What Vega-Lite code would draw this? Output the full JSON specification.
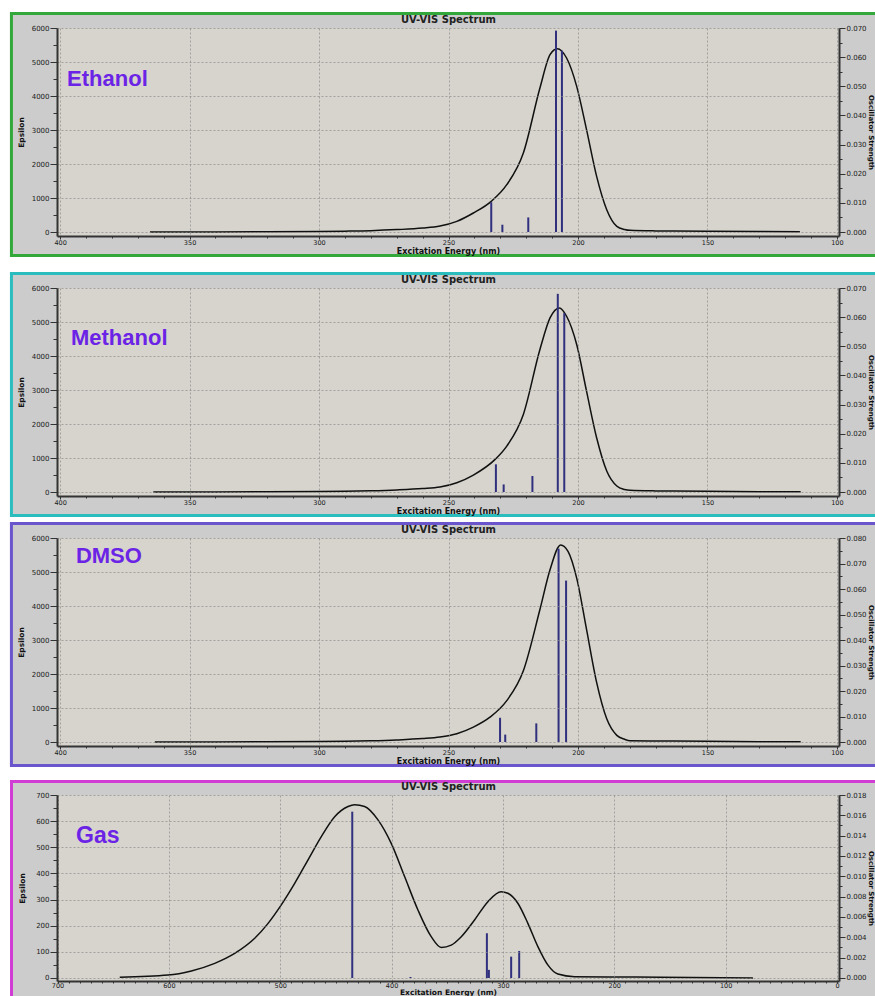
{
  "$schema": "https://vega.github.io/schema/vega-lite/v6.json",
  "background": "white",
  "padding": {"left": 8, "top": 10, "right": 0, "bottom": 0},
  "autosize": {"type": "pad"},
  "config": {
    "view": {"stroke": null},
    "axis": {
      "zindex": 1,
      "labelFont": "DejaVu Sans", "labelFontSize": 7, "labelColor": "#1a1a1a",
      "titleFont": "DejaVu Sans", "titleFontSize": 8, "titleFontWeight": "bold", "titleColor": "#111111",
      "domainColor": "#333333", "domainWidth": 2, "tickColor": "#333333", "tickWidth": 1,
      "labelFlush": false, "labelOverlap": false, "labelBound": false,
      "gridColor": "#8a8a8a", "gridDash": [2, 2], "gridWidth": 0.7
    }
  },
  "datasets": {
    "ethanol_curve": [
      {"nm": 365.3, "eps": 0}, {"nm": 340, "eps": 2}, {"nm": 320, "eps": 6}, {"nm": 300, "eps": 15},
      {"nm": 290, "eps": 25}, {"nm": 280, "eps": 40}, {"nm": 270, "eps": 70}, {"nm": 260, "eps": 115},
      {"nm": 253.3, "eps": 175}, {"nm": 246.8, "eps": 314}, {"nm": 240.4, "eps": 559}, {"nm": 233.5, "eps": 902},
      {"nm": 227.5, "eps": 1392}, {"nm": 221.1, "eps": 2324}, {"nm": 214.7, "eps": 4235}, {"nm": 210.8, "eps": 5216},
      {"nm": 208.0, "eps": 5392}, {"nm": 204.4, "eps": 5118}, {"nm": 200.5, "eps": 4284}, {"nm": 196.7, "eps": 3010},
      {"nm": 192.8, "eps": 1637}, {"nm": 188.9, "eps": 657}, {"nm": 185.0, "eps": 167}, {"nm": 182, "eps": 75},
      {"nm": 179.9, "eps": 49}, {"nm": 170, "eps": 33}, {"nm": 163.2, "eps": 29}, {"nm": 150, "eps": 22},
      {"nm": 130, "eps": 12}, {"nm": 114.3, "eps": 6}
    ],
    "ethanol_sticks": [
      {"nm": 233.5, "f": 0.0102}, {"nm": 229.2, "f": 0.0025}, {"nm": 219.2, "f": 0.0050},
      {"nm": 208.5, "f": 0.0691}, {"nm": 206.2, "f": 0.0622}
    ],
    "methanol_curve": [
      {"nm": 364, "eps": 0}, {"nm": 340, "eps": 2}, {"nm": 320, "eps": 5}, {"nm": 300, "eps": 12},
      {"nm": 290, "eps": 20}, {"nm": 280, "eps": 35}, {"nm": 270, "eps": 60}, {"nm": 260, "eps": 100},
      {"nm": 253.3, "eps": 147}, {"nm": 246.8, "eps": 274}, {"nm": 240.4, "eps": 499}, {"nm": 232.0, "eps": 959},
      {"nm": 227.5, "eps": 1351}, {"nm": 221.1, "eps": 2281}, {"nm": 214.7, "eps": 4190}, {"nm": 210.8, "eps": 5120},
      {"nm": 207.2, "eps": 5414}, {"nm": 204.4, "eps": 5169}, {"nm": 200.5, "eps": 4337}, {"nm": 196.7, "eps": 2966},
      {"nm": 192.8, "eps": 1596}, {"nm": 188.9, "eps": 617}, {"nm": 185.0, "eps": 176}, {"nm": 182, "eps": 75},
      {"nm": 179.9, "eps": 49}, {"nm": 170, "eps": 33}, {"nm": 163.2, "eps": 29}, {"nm": 150, "eps": 20},
      {"nm": 130, "eps": 10}, {"nm": 114, "eps": 4}
    ],
    "methanol_sticks": [
      {"nm": 231.7, "f": 0.0095}, {"nm": 228.7, "f": 0.0026}, {"nm": 217.6, "f": 0.0055},
      {"nm": 207.8, "f": 0.0680}, {"nm": 205.3, "f": 0.0614}
    ],
    "dmso_curve": [
      {"nm": 363.4, "eps": 0}, {"nm": 340, "eps": 2}, {"nm": 320, "eps": 5}, {"nm": 300, "eps": 12},
      {"nm": 290, "eps": 20}, {"nm": 280, "eps": 35}, {"nm": 270, "eps": 60}, {"nm": 260, "eps": 100},
      {"nm": 253.3, "eps": 146}, {"nm": 246.8, "eps": 244}, {"nm": 240.4, "eps": 438}, {"nm": 234.0, "eps": 730},
      {"nm": 227.5, "eps": 1218}, {"nm": 221.1, "eps": 2094}, {"nm": 214.7, "eps": 3896}, {"nm": 210.8, "eps": 5065},
      {"nm": 206.7, "eps": 5795}, {"nm": 203.8, "eps": 5600}, {"nm": 200.5, "eps": 4821}, {"nm": 196.7, "eps": 3312},
      {"nm": 192.8, "eps": 1753}, {"nm": 188.9, "eps": 682}, {"nm": 185.0, "eps": 195}, {"nm": 182, "eps": 80},
      {"nm": 179.9, "eps": 39}, {"nm": 170, "eps": 32}, {"nm": 163.2, "eps": 29}, {"nm": 150, "eps": 20},
      {"nm": 130, "eps": 10}, {"nm": 114, "eps": 4}
    ],
    "dmso_sticks": [
      {"nm": 230.1, "f": 0.0095}, {"nm": 228.1, "f": 0.0029}, {"nm": 216.1, "f": 0.0073},
      {"nm": 207.5, "f": 0.0758}, {"nm": 204.6, "f": 0.0633}
    ],
    "gas_curve": [
      {"nm": 644.1, "eps": 3}, {"nm": 600.7, "eps": 11}, {"nm": 579.8, "eps": 27}, {"nm": 558.8, "eps": 56},
      {"nm": 540.9, "eps": 94}, {"nm": 522.9, "eps": 152}, {"nm": 510.9, "eps": 209}, {"nm": 500.1, "eps": 273},
      {"nm": 487.0, "eps": 362}, {"nm": 475.0, "eps": 452}, {"nm": 463.1, "eps": 541}, {"nm": 451.1, "eps": 617},
      {"nm": 439.1, "eps": 656}, {"nm": 433.2, "eps": 663}, {"nm": 424.2, "eps": 656}, {"nm": 412.2, "eps": 605},
      {"nm": 400.3, "eps": 515}, {"nm": 388.3, "eps": 388}, {"nm": 376.3, "eps": 260}, {"nm": 364.4, "eps": 158},
      {"nm": 355.4, "eps": 117}, {"nm": 346.4, "eps": 126}, {"nm": 337.4, "eps": 158}, {"nm": 325.5, "eps": 222},
      {"nm": 313.5, "eps": 292}, {"nm": 301.6, "eps": 330}, {"nm": 295.6, "eps": 324}, {"nm": 286.6, "eps": 286},
      {"nm": 277.6, "eps": 209}, {"nm": 268.6, "eps": 120}, {"nm": 259.7, "eps": 50}, {"nm": 250.7, "eps": 15},
      {"nm": 235.7, "eps": 5}, {"nm": 205.8, "eps": 4}, {"nm": 157.8, "eps": 3}, {"nm": 75.5, "eps": 0}
    ],
    "gas_sticks": [
      {"nm": 435.3, "f": 0.01636}, {"nm": 383, "f": 0.0001}, {"nm": 314.4, "f": 0.0044},
      {"nm": 312.6, "f": 0.0008}, {"nm": 292.6, "f": 0.0021}, {"nm": 285.4, "f": 0.00266}
    ]
  },
  "spacing": 1,
  "vconcat": [
    {
      "spacing": 11,
      "vconcat": [
        {
          "width": 782, "height": 208,
          "data": {"values": [{"solvent": "Ethanol"}]},
          "resolve": {"scale": {"y": "independent"}, "axis": {"x": "independent", "y": "independent"}},
          "layer": [
            {"mark": {"type": "rect", "fill": "#cccccc"},
             "encoding": {
               "x": {"datum": 419.35, "type": "quantitative", "scale": {"domain": [99.2, 401.2], "reverse": true, "nice": false, "zero": false}, "axis": null},
               "x2": {"datum": 85.3},
               "y": {"datum": 6470.6, "type": "quantitative", "scale": {"domain": [-117.6, 6000], "nice": false, "zero": false}, "axis": null},
               "y2": {"datum": -735.3}}},
            {"mark": {"type": "rule", "color": "#33a83a", "strokeWidth": 3},
             "encoding": {
               "x": {"datum": 418.8, "type": "quantitative", "scale": {"domain": [99.2, 401.2], "reverse": true, "nice": false, "zero": false}, "axis": null},
               "y": {"datum": 6470.6, "type": "quantitative", "scale": {"domain": [-117.6, 6000], "nice": false, "zero": false}, "axis": null},
               "y2": {"datum": -735.3}}},
            {"mark": {"type": "rule", "color": "#33a83a", "strokeWidth": 3},
             "encoding": {
               "x": {"datum": 419.35, "type": "quantitative", "scale": {"domain": [99.2, 401.2], "reverse": true, "nice": false, "zero": false}, "axis": null},
               "x2": {"datum": 85.3},
               "y": {"datum": 6426.5, "type": "quantitative", "scale": {"domain": [-117.6, 6000], "nice": false, "zero": false}, "axis": null}}},
            {"mark": {"type": "rule", "color": "#33a83a", "strokeWidth": 3},
             "encoding": {
               "x": {"datum": 419.35, "type": "quantitative", "scale": {"domain": [99.2, 401.2], "reverse": true, "nice": false, "zero": false}, "axis": null},
               "x2": {"datum": 85.3},
               "y": {"datum": -691, "type": "quantitative", "scale": {"domain": [-117.6, 6000], "nice": false, "zero": false}, "axis": null}}},
            {"mark": {"type": "rect", "fill": "#d6d4cc"},
             "encoding": {
               "x": {"datum": 401.2, "type": "quantitative", "scale": {"domain": [99.2, 401.2], "reverse": true, "nice": false, "zero": false}, "axis": null},
               "x2": {"datum": 99.2},
               "y": {"datum": 6000, "type": "quantitative", "scale": {"domain": [-117.6, 6000], "nice": false, "zero": false}, "axis": null},
               "y2": {"datum": -117.6}}},
            {"data": {"name": "ethanol_curve"},
             "mark": {"type": "line", "color": "#111111", "strokeWidth": 1.5, "interpolate": "monotone"},
             "encoding": {
               "x": {"field": "nm", "type": "quantitative", "scale": {"domain": [99.2, 401.2], "reverse": true, "nice": false, "zero": false},
                     "axis": {"zindex": 1, "orient": "bottom", "title": "Excitation Energy (nm)", "values": [100,110,120,130,140,150,160,170,180,190,200,210,220,230,240,250,260,270,280,290,300,310,320,330,340,350,360,370,380,390,400], "format": "d",
                              "labelExpr": "datum.value % 50 === 0 ? datum.label : ''",
                              "tickSize": {"condition": {"test": "datum.value % 50 === 0", "value": 3}, "value": 2},
                              "grid": true, "gridOpacity": {"condition": {"test": "datum.value % 50 === 0", "value": 1}, "value": 0},
                              "labelPadding": 0, "labelFontSize": 6.5, "titleY": 11.5, "titleBaseline": "top"}},
               "y": {"field": "eps", "type": "quantitative", "scale": {"domain": [-117.6, 6000], "nice": false, "zero": false},
                     "axis": {"zindex": 1, "orient": "left", "title": "Epsilon", "values": [0,500,1000,1500,2000,2500,3000,3500,4000,4500,5000,5500,6000], "format": "d",
                              "labelExpr": "datum.value % 1000 === 0 ? datum.label : ''",
                              "tickSize": {"condition": {"test": "datum.value % 1000 === 0", "value": 7}, "value": 4},
                              "grid": true, "gridOpacity": {"condition": {"test": "datum.value % 1000 === 0", "value": 1}, "value": 0},
                              "labelPadding": 1, "titlePadding": 6, "titleFontSize": 7.5}}}},
            {"mark": {"type": "text", "font": "Liberation Sans", "fontSize": 22, "fontWeight": "bold", "color": "#6b23e6", "align": "left", "baseline": "middle"},
             "encoding": {
               "x": {"datum": 397.3, "type": "quantitative", "scale": {"domain": [99.2, 401.2], "reverse": true, "nice": false, "zero": false}, "axis": null},
               "y": {"datum": 4500, "type": "quantitative", "scale": {"domain": [-117.6, 6000], "nice": false, "zero": false}, "axis": null},
               "text": {"field": "solvent", "type": "nominal"}}},
            {"data": {"name": "ethanol_sticks"},
             "mark": {"type": "rule", "color": "#30307f", "strokeWidth": 2},
             "encoding": {
               "x": {"field": "nm", "type": "quantitative", "scale": {"domain": [99.2, 401.2], "reverse": true, "nice": false, "zero": false},
                     "axis": {"zindex": 1, "orient": "top", "title": "UV-VIS Spectrum", "labels": false, "ticks": false, "domain": false, "grid": false, "titleFontSize": 10, "titlePadding": 4, "titleColor": "#222222"}},
               "y": {"field": "f", "type": "quantitative", "scale": {"domain": [-0.001372, 0.07], "nice": false, "zero": false},
                     "axis": {"zindex": 1, "orient": "right", "title": "Oscillator Strength", "values": [0,0.005,0.01,0.015,0.02,0.025,0.03,0.035,0.04,0.045,0.05,0.055,0.06,0.065,0.07], "format": ".3f",
                              "labelExpr": "round(datum.value*1000) % 10 === 0 ? datum.label : ''",
                              "tickSize": {"condition": {"test": "round(datum.value*1000) % 10 === 0", "value": 6}, "value": 3},
                              "grid": false, "labelPadding": 1, "titlePadding": 1, "titleFontSize": 7}},
               "y2": {"datum": 0}}}
          ]
        },
        {
          "width": 782, "height": 208,
          "data": {"values": [{"solvent": "Methanol"}]},
          "resolve": {"scale": {"y": "independent"}, "axis": {"x": "independent", "y": "independent"}},
          "layer": [
            {"mark": {"type": "rect", "fill": "#cccccc"},
             "encoding": {
               "x": {"datum": 419.35, "type": "quantitative", "scale": {"domain": [99.2, 401.2], "reverse": true, "nice": false, "zero": false}, "axis": null},
               "x2": {"datum": 85.3},
               "y": {"datum": 6470.6, "type": "quantitative", "scale": {"domain": [-117.6, 6000], "nice": false, "zero": false}, "axis": null},
               "y2": {"datum": -735.3}}},
            {"mark": {"type": "rule", "color": "#2bbdbd", "strokeWidth": 3},
             "encoding": {
               "x": {"datum": 418.8, "type": "quantitative", "scale": {"domain": [99.2, 401.2], "reverse": true, "nice": false, "zero": false}, "axis": null},
               "y": {"datum": 6470.6, "type": "quantitative", "scale": {"domain": [-117.6, 6000], "nice": false, "zero": false}, "axis": null},
               "y2": {"datum": -735.3}}},
            {"mark": {"type": "rule", "color": "#2bbdbd", "strokeWidth": 3},
             "encoding": {
               "x": {"datum": 419.35, "type": "quantitative", "scale": {"domain": [99.2, 401.2], "reverse": true, "nice": false, "zero": false}, "axis": null},
               "x2": {"datum": 85.3},
               "y": {"datum": 6426.5, "type": "quantitative", "scale": {"domain": [-117.6, 6000], "nice": false, "zero": false}, "axis": null}}},
            {"mark": {"type": "rule", "color": "#2bbdbd", "strokeWidth": 3},
             "encoding": {
               "x": {"datum": 419.35, "type": "quantitative", "scale": {"domain": [99.2, 401.2], "reverse": true, "nice": false, "zero": false}, "axis": null},
               "x2": {"datum": 85.3},
               "y": {"datum": -691, "type": "quantitative", "scale": {"domain": [-117.6, 6000], "nice": false, "zero": false}, "axis": null}}},
            {"mark": {"type": "rect", "fill": "#d6d4cc"},
             "encoding": {
               "x": {"datum": 401.2, "type": "quantitative", "scale": {"domain": [99.2, 401.2], "reverse": true, "nice": false, "zero": false}, "axis": null},
               "x2": {"datum": 99.2},
               "y": {"datum": 6000, "type": "quantitative", "scale": {"domain": [-117.6, 6000], "nice": false, "zero": false}, "axis": null},
               "y2": {"datum": -117.6}}},
            {"data": {"name": "methanol_curve"},
             "mark": {"type": "line", "color": "#111111", "strokeWidth": 1.5, "interpolate": "monotone"},
             "encoding": {
               "x": {"field": "nm", "type": "quantitative", "scale": {"domain": [99.2, 401.2], "reverse": true, "nice": false, "zero": false},
                     "axis": {"zindex": 1, "orient": "bottom", "title": "Excitation Energy (nm)", "values": [100,110,120,130,140,150,160,170,180,190,200,210,220,230,240,250,260,270,280,290,300,310,320,330,340,350,360,370,380,390,400], "format": "d",
                              "labelExpr": "datum.value % 50 === 0 ? datum.label : ''",
                              "tickSize": {"condition": {"test": "datum.value % 50 === 0", "value": 3}, "value": 2},
                              "grid": true, "gridOpacity": {"condition": {"test": "datum.value % 50 === 0", "value": 1}, "value": 0},
                              "labelPadding": 0, "labelFontSize": 6.5, "titleY": 11.5, "titleBaseline": "top"}},
               "y": {"field": "eps", "type": "quantitative", "scale": {"domain": [-117.6, 6000], "nice": false, "zero": false},
                     "axis": {"zindex": 1, "orient": "left", "title": "Epsilon", "values": [0,500,1000,1500,2000,2500,3000,3500,4000,4500,5000,5500,6000], "format": "d",
                              "labelExpr": "datum.value % 1000 === 0 ? datum.label : ''",
                              "tickSize": {"condition": {"test": "datum.value % 1000 === 0", "value": 7}, "value": 4},
                              "grid": true, "gridOpacity": {"condition": {"test": "datum.value % 1000 === 0", "value": 1}, "value": 0},
                              "labelPadding": 1, "titlePadding": 6, "titleFontSize": 7.5}}}},
            {"mark": {"type": "text", "font": "Liberation Sans", "fontSize": 22, "fontWeight": "bold", "color": "#6b23e6", "align": "left", "baseline": "middle"},
             "encoding": {
               "x": {"datum": 395.8, "type": "quantitative", "scale": {"domain": [99.2, 401.2], "reverse": true, "nice": false, "zero": false}, "axis": null},
               "y": {"datum": 4521, "type": "quantitative", "scale": {"domain": [-117.6, 6000], "nice": false, "zero": false}, "axis": null},
               "text": {"field": "solvent", "type": "nominal"}}},
            {"data": {"name": "methanol_sticks"},
             "mark": {"type": "rule", "color": "#30307f", "strokeWidth": 2},
             "encoding": {
               "x": {"field": "nm", "type": "quantitative", "scale": {"domain": [99.2, 401.2], "reverse": true, "nice": false, "zero": false},
                     "axis": {"zindex": 1, "orient": "top", "title": "UV-VIS Spectrum", "labels": false, "ticks": false, "domain": false, "grid": false, "titleFontSize": 10, "titlePadding": 4, "titleColor": "#222222"}},
               "y": {"field": "f", "type": "quantitative", "scale": {"domain": [-0.001372, 0.07], "nice": false, "zero": false},
                     "axis": {"zindex": 1, "orient": "right", "title": "Oscillator Strength", "values": [0,0.005,0.01,0.015,0.02,0.025,0.03,0.035,0.04,0.045,0.05,0.055,0.06,0.065,0.07], "format": ".3f",
                              "labelExpr": "round(datum.value*1000) % 10 === 0 ? datum.label : ''",
                              "tickSize": {"condition": {"test": "round(datum.value*1000) % 10 === 0", "value": 6}, "value": 3},
                              "grid": false, "labelPadding": 1, "titlePadding": 1, "titleFontSize": 7}},
               "y2": {"datum": 0}}}
          ]
        }
      ]
    },
    {
      "spacing": 9,
      "vconcat": [
        {
          "width": 782, "height": 208,
          "data": {"values": [{"solvent": "DMSO"}]},
          "resolve": {"scale": {"y": "independent"}, "axis": {"x": "independent", "y": "independent"}},
          "layer": [
            {"mark": {"type": "rect", "fill": "#cccccc"},
             "encoding": {
               "x": {"datum": 419.35, "type": "quantitative", "scale": {"domain": [99.2, 401.2], "reverse": true, "nice": false, "zero": false}, "axis": null},
               "x2": {"datum": 85.3},
               "y": {"datum": 6470.6, "type": "quantitative", "scale": {"domain": [-117.6, 6000], "nice": false, "zero": false}, "axis": null},
               "y2": {"datum": -735.3}}},
            {"mark": {"type": "rule", "color": "#6a55cc", "strokeWidth": 3},
             "encoding": {
               "x": {"datum": 418.8, "type": "quantitative", "scale": {"domain": [99.2, 401.2], "reverse": true, "nice": false, "zero": false}, "axis": null},
               "y": {"datum": 6470.6, "type": "quantitative", "scale": {"domain": [-117.6, 6000], "nice": false, "zero": false}, "axis": null},
               "y2": {"datum": -735.3}}},
            {"mark": {"type": "rule", "color": "#6a55cc", "strokeWidth": 3},
             "encoding": {
               "x": {"datum": 419.35, "type": "quantitative", "scale": {"domain": [99.2, 401.2], "reverse": true, "nice": false, "zero": false}, "axis": null},
               "x2": {"datum": 85.3},
               "y": {"datum": 6426.5, "type": "quantitative", "scale": {"domain": [-117.6, 6000], "nice": false, "zero": false}, "axis": null}}},
            {"mark": {"type": "rule", "color": "#6a55cc", "strokeWidth": 3},
             "encoding": {
               "x": {"datum": 419.35, "type": "quantitative", "scale": {"domain": [99.2, 401.2], "reverse": true, "nice": false, "zero": false}, "axis": null},
               "x2": {"datum": 85.3},
               "y": {"datum": -691, "type": "quantitative", "scale": {"domain": [-117.6, 6000], "nice": false, "zero": false}, "axis": null}}},
            {"mark": {"type": "rect", "fill": "#d6d4cc"},
             "encoding": {
               "x": {"datum": 401.2, "type": "quantitative", "scale": {"domain": [99.2, 401.2], "reverse": true, "nice": false, "zero": false}, "axis": null},
               "x2": {"datum": 99.2},
               "y": {"datum": 6000, "type": "quantitative", "scale": {"domain": [-117.6, 6000], "nice": false, "zero": false}, "axis": null},
               "y2": {"datum": -117.6}}},
            {"data": {"name": "dmso_curve"},
             "mark": {"type": "line", "color": "#111111", "strokeWidth": 1.5, "interpolate": "monotone"},
             "encoding": {
               "x": {"field": "nm", "type": "quantitative", "scale": {"domain": [99.2, 401.2], "reverse": true, "nice": false, "zero": false},
                     "axis": {"zindex": 1, "orient": "bottom", "title": "Excitation Energy (nm)", "values": [100,110,120,130,140,150,160,170,180,190,200,210,220,230,240,250,260,270,280,290,300,310,320,330,340,350,360,370,380,390,400], "format": "d",
                              "labelExpr": "datum.value % 50 === 0 ? datum.label : ''",
                              "tickSize": {"condition": {"test": "datum.value % 50 === 0", "value": 3}, "value": 2},
                              "grid": true, "gridOpacity": {"condition": {"test": "datum.value % 50 === 0", "value": 1}, "value": 0},
                              "labelPadding": 0, "labelFontSize": 6.5, "titleY": 11.5, "titleBaseline": "top"}},
               "y": {"field": "eps", "type": "quantitative", "scale": {"domain": [-117.6, 6000], "nice": false, "zero": false},
                     "axis": {"zindex": 1, "orient": "left", "title": "Epsilon", "values": [0,500,1000,1500,2000,2500,3000,3500,4000,4500,5000,5500,6000], "format": "d",
                              "labelExpr": "datum.value % 1000 === 0 ? datum.label : ''",
                              "tickSize": {"condition": {"test": "datum.value % 1000 === 0", "value": 7}, "value": 4},
                              "grid": true, "gridOpacity": {"condition": {"test": "datum.value % 1000 === 0", "value": 1}, "value": 0},
                              "labelPadding": 1, "titlePadding": 6, "titleFontSize": 7.5}}}},
            {"mark": {"type": "text", "font": "Liberation Sans", "fontSize": 22, "fontWeight": "bold", "color": "#6b23e6", "align": "left", "baseline": "middle"},
             "encoding": {
               "x": {"datum": 393.9, "type": "quantitative", "scale": {"domain": [99.2, 401.2], "reverse": true, "nice": false, "zero": false}, "axis": null},
               "y": {"datum": 5456, "type": "quantitative", "scale": {"domain": [-117.6, 6000], "nice": false, "zero": false}, "axis": null},
               "text": {"field": "solvent", "type": "nominal"}}},
            {"data": {"name": "dmso_sticks"},
             "mark": {"type": "rule", "color": "#30307f", "strokeWidth": 2},
             "encoding": {
               "x": {"field": "nm", "type": "quantitative", "scale": {"domain": [99.2, 401.2], "reverse": true, "nice": false, "zero": false},
                     "axis": {"zindex": 1, "orient": "top", "title": "UV-VIS Spectrum", "labels": false, "ticks": false, "domain": false, "grid": false, "titleFontSize": 10, "titlePadding": 4, "titleColor": "#222222"}},
               "y": {"field": "f", "type": "quantitative", "scale": {"domain": [-0.001568, 0.08], "nice": false, "zero": false},
                     "axis": {"zindex": 1, "orient": "right", "title": "Oscillator Strength", "values": [0,0.005,0.01,0.015,0.02,0.025,0.03,0.035,0.04,0.045,0.05,0.055,0.06,0.065,0.07,0.075,0.08], "format": ".3f",
                              "labelExpr": "round(datum.value*1000) % 10 === 0 ? datum.label : ''",
                              "tickSize": {"condition": {"test": "round(datum.value*1000) % 10 === 0", "value": 6}, "value": 3},
                              "grid": false, "labelPadding": 1, "titlePadding": 1, "titleFontSize": 7}},
               "y2": {"datum": 0}}}
          ]
        },
        {
          "width": 782, "height": 186,
          "data": {"values": [{"solvent": "Gas"}]},
          "resolve": {"scale": {"y": "independent"}, "axis": {"x": "independent", "y": "independent"}},
          "layer": [
            {"mark": {"type": "rect", "fill": "#cccccc"},
             "encoding": {
               "x": {"datum": 742.66, "type": "quantitative", "scale": {"domain": [-1.8, 700.45], "reverse": true, "nice": false, "zero": false}, "axis": null},
               "x2": {"datum": -34.13},
               "y": {"datum": 757.38, "type": "quantitative", "scale": {"domain": [-11.5, 700], "nice": false, "zero": false}, "axis": null},
               "y2": {"datum": -68.9}}},
            {"mark": {"type": "rule", "color": "#d03cd4", "strokeWidth": 3},
             "encoding": {
               "x": {"datum": 741.31, "type": "quantitative", "scale": {"domain": [-1.8, 700.45], "reverse": true, "nice": false, "zero": false}, "axis": null},
               "y": {"datum": 757.38, "type": "quantitative", "scale": {"domain": [-11.5, 700], "nice": false, "zero": false}, "axis": null},
               "y2": {"datum": -68.9}}},
            {"mark": {"type": "rule", "color": "#d03cd4", "strokeWidth": 3},
             "encoding": {
               "x": {"datum": 742.66, "type": "quantitative", "scale": {"domain": [-1.8, 700.45], "reverse": true, "nice": false, "zero": false}, "axis": null},
               "x2": {"datum": -34.13},
               "y": {"datum": 751.64, "type": "quantitative", "scale": {"domain": [-11.5, 700], "nice": false, "zero": false}, "axis": null}}},
            {"mark": {"type": "rect", "fill": "#d6d4cc"},
             "encoding": {
               "x": {"datum": 700.45, "type": "quantitative", "scale": {"domain": [-1.8, 700.45], "reverse": true, "nice": false, "zero": false}, "axis": null},
               "x2": {"datum": -1.8},
               "y": {"datum": 700, "type": "quantitative", "scale": {"domain": [-11.5, 700], "nice": false, "zero": false}, "axis": null},
               "y2": {"datum": -11.5}}},
            {"data": {"name": "gas_curve"},
             "mark": {"type": "line", "color": "#111111", "strokeWidth": 1.5, "interpolate": "monotone"},
             "encoding": {
               "x": {"field": "nm", "type": "quantitative", "scale": {"domain": [-1.8, 700.45], "reverse": true, "nice": false, "zero": false},
                     "axis": {"zindex": 1, "orient": "bottom", "title": "Excitation Energy (nm)", "values": [0,10,20,30,40,50,60,70,80,90,100,110,120,130,140,150,160,170,180,190,200,210,220,230,240,250,260,270,280,290,300,310,320,330,340,350,360,370,380,390,400,410,420,430,440,450,460,470,480,490,500,510,520,530,540,550,560,570,580,590,600,610,620,630,640,650,660,670,680,690,700], "format": "d",
                              "labelExpr": "datum.value % 100 === 0 ? datum.label : ''",
                              "tickSize": 2,
                              "grid": true, "gridOpacity": {"condition": {"test": "datum.value % 100 === 0", "value": 1}, "value": 0},
                              "labelPadding": -1, "labelFontSize": 6.5, "titleFontSize": 7.5, "titleY": 15, "titleBaseline": "bottom"}},
               "y": {"field": "eps", "type": "quantitative", "scale": {"domain": [-11.5, 700], "nice": false, "zero": false},
                     "axis": {"zindex": 1, "orient": "left", "title": "Epsilon", "values": [0,50,100,150,200,250,300,350,400,450,500,550,600,650,700], "format": "d",
                              "labelExpr": "datum.value % 100 === 0 ? datum.label : ''",
                              "tickSize": {"condition": {"test": "datum.value % 100 === 0", "value": 7}, "value": 4},
                              "grid": true, "gridOpacity": {"condition": {"test": "datum.value % 100 === 0", "value": 1}, "value": 0},
                              "labelPadding": 1, "titlePadding": 9, "titleFontSize": 7.5}}}},
            {"mark": {"type": "text", "font": "Liberation Sans", "fontSize": 23, "fontWeight": "bold", "color": "#6b23e6", "align": "left", "baseline": "middle"},
             "encoding": {
               "x": {"datum": 683.4, "type": "quantitative", "scale": {"domain": [-1.8, 700.45], "reverse": true, "nice": false, "zero": false}, "axis": null},
               "y": {"datum": 544.3, "type": "quantitative", "scale": {"domain": [-11.5, 700], "nice": false, "zero": false}, "axis": null},
               "text": {"field": "solvent", "type": "nominal"}}},
            {"data": {"name": "gas_sticks"},
             "mark": {"type": "rule", "color": "#30307f", "strokeWidth": 2},
             "encoding": {
               "x": {"field": "nm", "type": "quantitative", "scale": {"domain": [-1.8, 700.45], "reverse": true, "nice": false, "zero": false},
                     "axis": {"zindex": 1, "orient": "top", "title": "UV-VIS Spectrum", "labels": false, "ticks": false, "domain": false, "grid": false, "titleFontSize": 10, "titlePadding": 4, "titleColor": "#222222"}},
               "y": {"field": "f", "type": "quantitative", "scale": {"domain": [-0.0002957, 0.018], "nice": false, "zero": false},
                     "axis": {"zindex": 1, "orient": "right", "title": "Oscillator Strength", "values": [0,0.001,0.002,0.003,0.004,0.005,0.006,0.007,0.008,0.009,0.01,0.011,0.012,0.013,0.014,0.015,0.016,0.017,0.018], "format": ".3f",
                              "labelExpr": "round(datum.value*1000) % 2 === 0 ? datum.label : ''",
                              "tickSize": {"condition": {"test": "round(datum.value*1000) % 2 === 0", "value": 6}, "value": 3},
                              "grid": false, "labelPadding": 1, "titlePadding": 1, "titleFontSize": 7}},
               "y2": {"datum": 0}}}
          ]
        }
      ]
    }
  ]
}
